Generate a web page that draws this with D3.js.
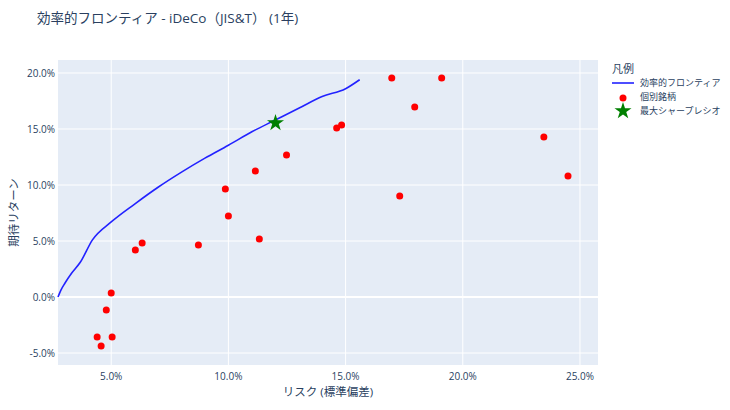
<!DOCTYPE html>
<html><head><meta charset="utf-8">
<script src="https://cdn.jsdelivr.net/npm/d3@7"></script>
<style>body{margin:0;background:#fff;font-family:"Open Sans","Noto Sans CJK JP",sans-serif;}</style>
</head><body><div id="chart"></div>
<script>
// frontier curve (risk %, return %)
var frontierRisk = [2.73, 2.85, 3.03, 3.3, 3.68, 4.2, 5.0, 6.0, 7.0, 8.0, 9.0, 10.0, 11.0, 12.0, 13.0, 14.0, 15.0, 15.6];
var frontierRet  = [0.0, 0.6, 1.25, 2.1, 3.1, 4.1, 5.1, 6.45, 7.7, 8.9, 10.0, 11.1, 12.15, 13.1, 14.05, 14.95, 18.05 - 2.0, 19.4];
frontierRet[16] = 18.6;
frontierRet[15] = 17.9;
frontierRet[14] = 16.85;
frontierRet[13] = 15.8;
frontierRet[12] = 14.75;
frontierRet[11] = 13.55;
frontierRet[10] = 12.4;
frontierRet[9] = 11.15;
frontierRet[8] = 9.8;
frontierRet[7] = 8.3;
frontierRet[6] = 6.7;
frontierRet[5] = 5.1;
var assetRisk = [16.97, 19.10, 17.95, 14.62, 14.83, 12.48, 11.15, 9.87, 10.0, 23.46, 24.49, 17.31, 11.32, 8.72, 6.32, 6.03, 5.0, 4.79, 4.40, 5.04, 4.57];
var assetRet  = [19.55, 19.55, 16.96, 15.09, 15.36, 12.68, 11.25, 9.64, 7.23, 14.29, 10.8, 9.02, 5.18, 4.64, 4.82, 4.2, 0.36, -1.16, -3.57, -3.57, -4.38];
var sharpe = [12.01, 15.54];
var xTicks = [5, 10, 15, 20, 25];
var yTicks = [-5, 0, 5, 10, 15, 20];

var W = 730, H = 410,
    pL = 58, pR = 598, pT = 60, pB = 365;

var svg = d3.select("#chart").append("svg").attr("width", W).attr("height", H);
var x = d3.scaleLinear().domain([2.73, 25.77]).range([pL, pR]);
var y = d3.scaleLinear().domain([-6.07, 21.16]).range([pB, pT]);

svg.append("rect").attr("x", pL).attr("y", pT).attr("width", pR - pL).attr("height", pB - pT).attr("fill", "#e5ecf6");

var g = svg.append("g");
g.selectAll(".vx").data(xTicks).enter().append("line")
    .attr("x1", d => x(d)).attr("x2", d => x(d)).attr("y1", pT).attr("y2", pB)
    .attr("stroke", "#fff").attr("stroke-width", 1);
g.selectAll(".hy").data(yTicks).enter().append("line")
    .attr("y1", d => y(d)).attr("y2", d => y(d)).attr("x1", pL).attr("x2", pR)
    .attr("stroke", "#fff").attr("stroke-width", d => d === 0 ? 2 : 1);

g.selectAll(".xt").data(xTicks).enter().append("text")
    .attr("x", d => x(d)).attr("y", pB + 15).attr("text-anchor", "middle")
    .attr("font-size", 10).attr("fill", "#2a3f5f").text(d => d.toFixed(1) + "%");
g.selectAll(".yt").data(yTicks).enter().append("text")
    .attr("x", pL - 3).attr("y", d => y(d) + 4).attr("text-anchor", "end")
    .attr("font-size", 10).attr("fill", "#2a3f5f").text(d => d.toFixed(1) + "%");

var line = d3.line().x(d => x(d[0])).y(d => y(d[1])).curve(d3.curveMonotoneX);
svg.append("path").datum(d3.zip(frontierRisk, frontierRet)).attr("d", line)
    .attr("fill", "none").attr("stroke", "#2222ff").attr("stroke-width", 1.6);

svg.selectAll(".pt").data(d3.zip(assetRisk, assetRet)).enter().append("circle")
    .attr("cx", d => x(d[0])).attr("cy", d => y(d[1])).attr("r", 3.5).attr("fill", "red");

var star = d3.symbol().type(d3.symbolStar).size(90);
svg.append("path").attr("d", star).attr("fill", "green")
    .attr("transform", "translate(" + x(sharpe[0]) + "," + y(sharpe[1]) + ")");

svg.append("text").attr("x", 37).attr("y", 23).attr("font-size", 13.5).attr("fill", "#2a3f5f")
    .text("効率的フロンティア - iDeCo（JIS&T） (1年)");
svg.append("text").attr("x", (pL + pR) / 2).attr("y", 396).attr("text-anchor", "middle")
    .attr("font-size", 11.5).attr("fill", "#2a3f5f").text("リスク (標準偏差)");
svg.append("text").attr("transform", "translate(18," + (pT + pB) / 2 + ") rotate(-90)")
    .attr("text-anchor", "middle").attr("font-size", 11.5).attr("fill", "#2a3f5f").text("期待リターン");

var lg = svg.append("g").attr("transform", "translate(612,0)");
lg.append("text").attr("x", 0).attr("y", 73).attr("font-size", 11).attr("fill", "#2a3f5f").text("凡例");
lg.append("line").attr("x1", 0).attr("x2", 22).attr("y1", 83).attr("y2", 83).attr("stroke", "#2222ff").attr("stroke-width", 1.6);
lg.append("circle").attr("cx", 11).attr("cy", 98).attr("r", 3.5).attr("fill", "red");
lg.append("path").attr("d", star).attr("fill", "green").attr("transform", "translate(11,111)");
["効率的フロンティア", "個別銘柄", "最大シャープレシオ"].forEach(function(t, i) {
    lg.append("text").attr("x", 28).attr("y", 86 + i * 14).attr("font-size", 9).attr("fill", "#2a3f5f").text(t);
});
</script></body></html>
